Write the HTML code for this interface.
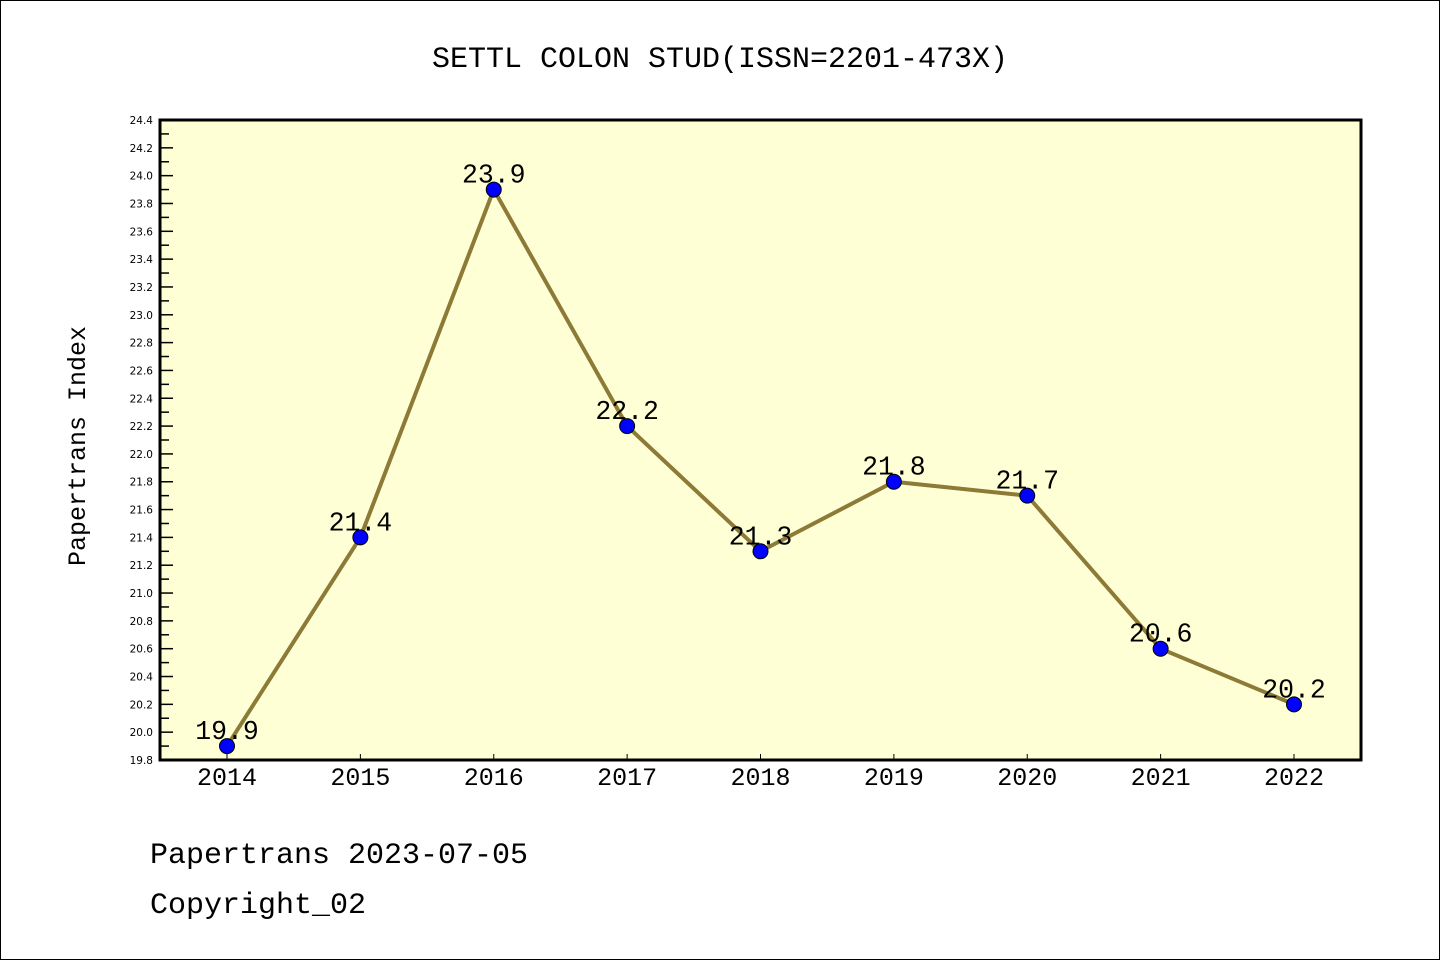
<!DOCTYPE html>
<html><head><meta charset="utf-8"><style>
body{margin:0;background:#fff}
svg{display:block}
.t{font-family:"Liberation Mono","DejaVu Sans Mono",monospace}
</style></head><body>
<svg width="1440" height="960" xmlns="http://www.w3.org/2000/svg">
<rect x="0.5" y="0.5" width="1439" height="959" fill="#fff" stroke="#000"/>
<text class="t" x="720" y="67" font-size="30" text-anchor="middle">SETTL COLON STUD(ISSN=2201-473X)</text>
<rect x="160" y="120" width="1201" height="640" fill="#ffffd5"/>
<g id="axes"></g>
<g id="marks"></g>
<rect x="160" y="120" width="1201" height="640" fill="none" stroke="#000" stroke-width="3"/>
<text class="t" transform="translate(85,446) rotate(-90)" font-size="25" text-anchor="middle">Papertrans Index</text>
<text class="t" x="150" y="863" font-size="30">Papertrans 2023-07-05</text>
<text class="t" x="150" y="913" font-size="30">Copyright_02</text>
</svg>
<script>
const years=["2014","2015","2016","2017","2018","2019","2020","2021","2022"];
const values=[19.9,21.4,23.9,22.2,21.3,21.8,21.7,20.6,20.2];
const yTicks=[19.8,20.0,20.2,20.4,20.6,20.8,21.0,21.2,21.4,21.6,21.8,22.0,22.2,22.4,22.6,22.8,23.0,23.2,23.4,23.6,23.8,24.0,24.2,24.4];
const NS="http://www.w3.org/2000/svg";
const yMin=19.8,yMax=24.4,yTop=120,yBot=760;
function yScale(v){return yBot-(v-yMin)/(yMax-yMin)*(yBot-yTop);}
function xScale(i){return 227+i*133.375;}
function mk(t,a,p){const e=document.createElementNS(NS,t);for(const k in a)e.setAttribute(k,a[k]);p.appendChild(e);return e;}
const ax=document.getElementById('axes'),mg=document.getElementById('marks');
yTicks.forEach((v,i)=>{
  const l=mk('line',{x1:160,x2:173,y1:yScale(v),y2:yScale(v),stroke:'#000','stroke-width':1.5},ax);
  
  
  if(i<yTicks.length-1){const yy=(yScale(v)+yScale(yTicks[i+1]))/2;
    const m=mk('line',{x1:160,x2:169,y1:yy,y2:yy,stroke:'#000','stroke-width':1.5},ax);
    
    }
  const t=mk('text',{x:153,y:yScale(v)+4,'font-size':10.5,'text-anchor':'end','font-family':'DejaVu Sans, sans-serif'},ax);
  t.textContent=v.toFixed(1);
  
  
});
years.forEach((yr,i)=>{
  const l=mk('line',{x1:xScale(i),x2:xScale(i),y1:754,y2:760,stroke:'#000','stroke-width':1},ax);
  
  
  const t=mk('text',{x:xScale(i),y:785,'font-size':25,'text-anchor':'middle','class':'t'},ax);
  t.textContent=yr;
  
  
});
const pl=mk('polyline',{points:values.map((v,i)=>xScale(i)+','+yScale(v)).join(' '),fill:'none',stroke:'#8c7a36','stroke-width':4,'stroke-linejoin':'round'},mg);


values.forEach((v,i)=>{
  const c=mk('circle',{cx:xScale(i),cy:yScale(v),r:7.5,fill:'#0000ff',stroke:'#000','stroke-width':1},mg);
  
  
  const t=mk('text',{x:xScale(i),y:yScale(v)-7,'font-size':26.5,'text-anchor':'middle','class':'t'},mg);
  t.textContent=v.toFixed(1);
  
  
});
</script>
</body></html>
